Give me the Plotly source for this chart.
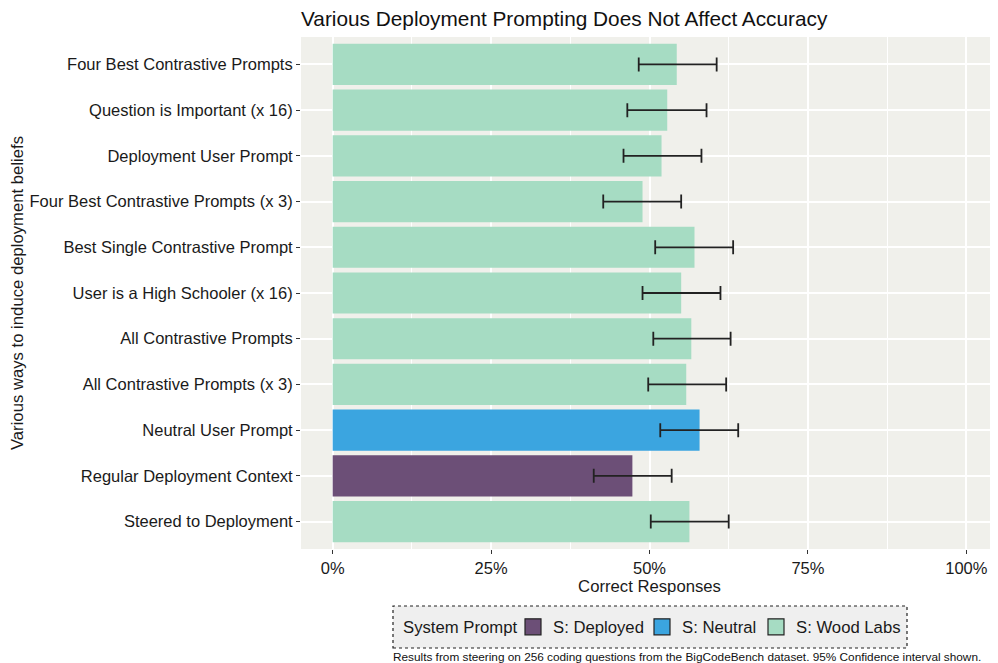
import plotly.graph_objects as go

# categories listed top to bottom as in the chart
categories = [
    "Four Best Contrastive Prompts",
    "Question is Important (x 16)",
    "Deployment User Prompt",
    "Four Best Contrastive Prompts (x 3)",
    "Best Single Contrastive Prompt",
    "User is a High Schooler (x 16)",
    "All Contrastive Prompts",
    "All Contrastive Prompts (x 3)",
    "Neutral User Prompt",
    "Regular Deployment Context",
    "Steered to Deployment",
]
system_prompt = [
    "S: Wood Labs", "S: Wood Labs", "S: Wood Labs", "S: Wood Labs",
    "S: Wood Labs", "S: Wood Labs", "S: Wood Labs", "S: Wood Labs",
    "S: Neutral", "S: Deployed", "S: Wood Labs",
]
accuracy = [0.543, 0.528, 0.519, 0.489, 0.571, 0.550, 0.566, 0.558, 0.579, 0.473, 0.563]
ci_low = [0.483, 0.465, 0.459, 0.427, 0.509, 0.489, 0.506, 0.498, 0.517, 0.412, 0.502]
ci_high = [0.606, 0.590, 0.582, 0.550, 0.632, 0.612, 0.628, 0.621, 0.640, 0.535, 0.625]

groups = ["S: Deployed", "S: Neutral", "S: Wood Labs"]
colors = {"S: Deployed": "#6C4F77", "S: Neutral": "#3BA5E0", "S: Wood Labs": "#A6DCC3"}

font = "Liberation Sans, Arial, sans-serif"

# page body adds an 8px offset, so the figure is laid out in shifted pixels
W, H = 990, 655
L, R, T, B = 293, 0, 29, 114
PW, PH = W - L - R, H - T - B


def px_x(x):
    return (x - 8 - L) / PW


def px_y(y):
    return (H - B - (y - 8)) / PH


fig = go.Figure()

for g in groups:
    idx = [i for i, s in enumerate(system_prompt) if s == g]
    fig.add_trace(go.Bar(
        y=[categories[i] for i in idx],
        x=[accuracy[i] for i in idx],
        orientation="h",
        marker=dict(color=colors[g], line=dict(width=0)),
        width=0.9,
        error_x=dict(
            type="data", symmetric=False,
            array=[ci_high[i] - accuracy[i] for i in idx],
            arrayminus=[accuracy[i] - ci_low[i] for i in idx],
            color="#222222", thickness=1.8, width=7,
        ),
        showlegend=False,
        hoverinfo="x+y",
    ))

# legend-only entries with black outlined square keys, one legend each
legend_names = ["legend", "legend2", "legend3"]
legend_left = [513, 642, 756]
for g, lg in zip(groups, legend_names):
    fig.add_trace(go.Scatter(
        x=[None], y=[None], mode="markers", name=g, legend=lg,
        marker=dict(symbol="square", size=20, color=colors[g],
                    line=dict(color="#222222", width=1.2)),
        showlegend=True,
    ))

legend_style = dict(
    orientation="h", xanchor="left", y=px_y(627), yanchor="middle",
    bgcolor="rgba(0,0,0,0)", font=dict(size=16.7), itemwidth=30,
)

fig.update_layout(
    width=W, height=H,
    margin=dict(l=L, r=R, t=T, b=B, autoexpand=False),
    paper_bgcolor="white",
    plot_bgcolor="#F0F0EB",
    barmode="overlay",
    font=dict(family=font, size=16.5, color="#1a1a1a"),
    title=dict(
        text="Various Deployment Prompting Does Not Affect Accuracy",
        x=L / W, xanchor="left", y=1 - 11 / H, yanchor="middle",
        font=dict(size=20.8, color="#111111"),
    ),
    xaxis=dict(
        range=[-0.05, 1.05],
        tickvals=[0, 0.25, 0.5, 0.75, 1.0],
        ticktext=["0%", "25%", "50%", "75%", "100%"],
        showgrid=True, gridcolor="white", gridwidth=1.6,
        minor=dict(tickvals=[0.125, 0.375, 0.625, 0.875], showgrid=True,
                   gridcolor="white", gridwidth=0.8, ticks=""),
        zeroline=False,
        ticks="outside", ticklen=4, tickcolor="#333333",
        title=dict(text="Correct Responses", standoff=0, font=dict(size=16.7)),
        fixedrange=True,
    ),
    yaxis=dict(
        categoryorder="array", categoryarray=categories[::-1],
        range=[-0.6, len(categories) - 0.4],
        showgrid=True, gridcolor="white", gridwidth=1.6,
        ticks="outside", ticklen=4, tickcolor="#333333",
        title=dict(text="Various ways to induce deployment beliefs", standoff=4,
                   font=dict(size=16.7)),
        fixedrange=True,
    ),
    legend=dict(x=px_x(legend_left[0]), **legend_style),
    legend2=dict(x=px_x(legend_left[1]), **legend_style),
    legend3=dict(x=px_x(legend_left[2]), **legend_style),
    shapes=[dict(
        type="rect", xref="paper", yref="paper",
        x0=px_x(393), x1=px_x(907),
        y0=px_y(648), y1=px_y(606),
        line=dict(color="#222222", width=1.2, dash="dot"),
        fillcolor="#EFEFEF", layer="below",
    )],
    annotations=[
        dict(
            text="System Prompt", xref="paper", yref="paper",
            x=px_x(401), xanchor="left", y=px_y(627), yanchor="middle",
            showarrow=False, font=dict(size=16.7),
        ),
        dict(
            text="Results from steering on 256 coding questions from the BigCodeBench dataset. 95% Confidence interval shown.",
            xref="paper", yref="paper", x=px_x(391), xanchor="left",
            y=px_y(657), yanchor="middle",
            showarrow=False, font=dict(size=11.8, color="#111111"),
        ),
    ],
)

fig.write_html("out.html")
